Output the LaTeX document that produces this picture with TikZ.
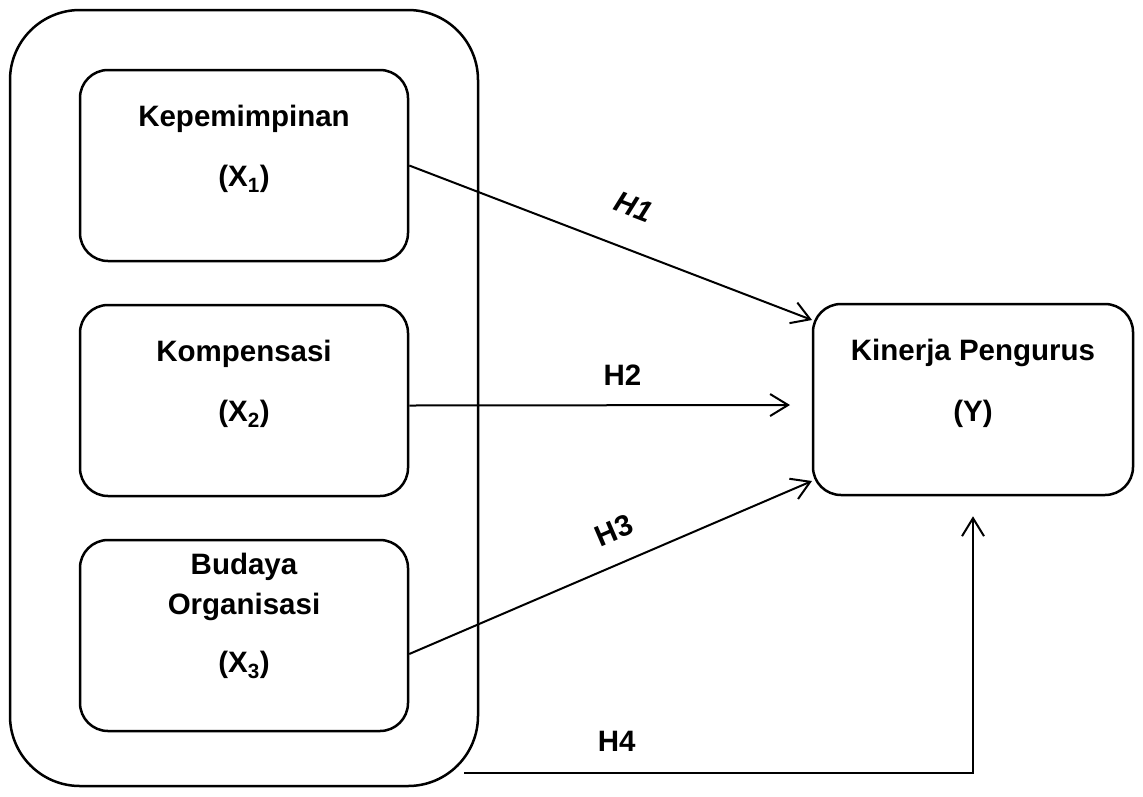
\documentclass[tikz,border=0pt]{standalone}
\usepackage{fontspec}
\setmainfont{Liberation Sans}
\usetikzlibrary{arrows.meta}

\begin{document}
\begin{tikzpicture}[x=1pt, y=-1pt,
        box/.style = {draw, rounded corners=28pt, line width=2.5pt, minimum width=328pt, minimum height=191pt},
        group/.style = {draw, rounded corners=70pt, line width=2.5pt, minimum width=468pt, minimum height=776pt},
        txt/.style = {font=\fontsize{29.5}{35}\selectfont\bfseries, anchor=base},
        hyp/.style = {font=\fontsize{29.5}{35}\selectfont\bfseries},
        arr/.style = {-{Straight Barb[length=18pt, width=22pt]}, line width=2pt}]
    \useasboundingbox (0,0) rectangle (1143,796);

    % independent variables
    \node[group] (grp) at (244,398) {};
    \node[box] (x1) at (244,165.5) {};
    \node[box] (x2) at (244,400.5) {};
    \node[box] (x3) at (244,635.5) {};
    \node[box, minimum width=320pt] (y) at (973,399.5) {};

    \node[txt] (x1a) at ([yshift=-58pt]x1.north) {Kepemimpinan};
    \node[txt] (x1b) at ([yshift=-118pt]x1.north) {(X\textsubscript{1})};
    \node[txt] (x2a) at ([yshift=-58pt]x2.north) {Kompensasi};
    \node[txt] (x2b) at ([yshift=-118pt]x2.north) {(X\textsubscript{2})};
    \node[txt] (x3a) at ([yshift=-36pt]x3.north) {Budaya};
    \node[txt] (x3b) at ([yshift=-76pt]x3.north) {Organisasi};
    \node[txt] (x3c) at ([yshift=-134pt]x3.north) {(X\textsubscript{3})};
    \node[txt] (ya) at ([yshift=-58pt]y.north) {Kinerja Pengurus};
    \node[txt] (yb) at ([yshift=-119pt]y.north) {(Y)};

    % hypotheses
    \coordinate (t1) at (812,320);
    \coordinate (t2) at (790,405);
    \coordinate (t3) at (812,481);
    \coordinate (s4) at (464,773);

    \draw[arr] (x1.east) -- node[hyp, sloped, pos=0.52, above=27pt] {\itshape H1} (t1);
    \draw[arr] ([yshift=-5pt]x2.east) -- node[hyp, pos=0.56, above=15pt] {H2} (t2);
    \draw[arr] ([yshift=-18.5pt]x3.east) -- node[hyp, sloped, pos=0.54, above=18pt] {H3} (t3);
    \draw[arr] (s4) -| node[hyp, pos=0.15, above=17pt] {H4} ([yshift=-20pt]y.south);
\end{tikzpicture}
\end{document}
